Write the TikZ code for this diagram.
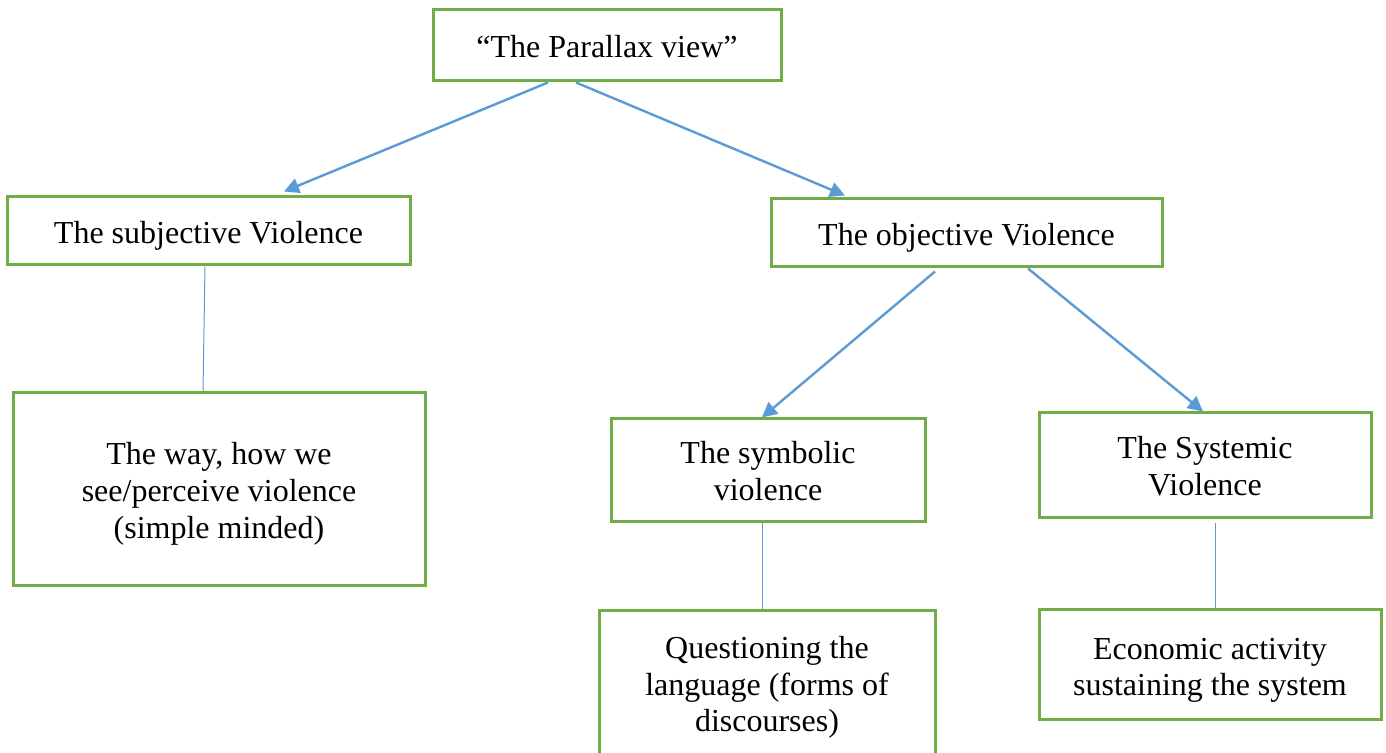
\documentclass[tikz,border=0pt]{standalone}
\usepackage{fontspec}
\setmainfont{Liberation Serif}
\usetikzlibrary{arrows.meta,calc}
\definecolor{boxgreen}{HTML}{70AD47}
\definecolor{lineblue}{HTML}{5B9BD5}
\newcommand\liftto[1]{\rule{0pt}{#1}}
\begin{document}
\begin{tikzpicture}[x=0.5pt,y=-0.5pt,
  box/.style={draw=boxgreen,line width=1.5pt,rectangle,align=center,
    font=\fontsize{16}{18.4}\selectfont,inner sep=0pt},
  arr/.style={draw=lineblue,line width=1.2pt,-{Triangle[length=7.5pt,width=7.5pt]}},
  thin/.style={draw=lineblue,line width=0.5pt}]
\useasboundingbox (0,0) rectangle (1386,753);
\node[box,minimum width=174pt,minimum height=35.5pt] (top) at (607,45.5) {\liftto{12pt}“The Parallax view”};
\node[box,minimum width=201.5pt,minimum height=34pt] (sub) at (208.5,231) {\liftto{16pt}The subjective Violence};
\node[box,minimum width=195.5pt,minimum height=34pt] (obj) at (966.5,233) {\liftto{16pt}The objective Violence};
\node[box,minimum width=206pt,minimum height=96pt] (way) at (219,489) {\liftto{16pt}The way, how we\\see/perceive violence\\(simple minded)};
\node[box,minimum width=157pt,minimum height=51pt] (sym) at (768,470) {\liftto{12pt}The symbolic\\violence};
\node[box,minimum width=166pt,minimum height=52pt] (sys) at (1205,465) {\liftto{12.5pt}The Systemic\\Violence};
\node[box,minimum width=168pt,minimum height=73pt] (que) at (767,683) {\liftto{15.5pt}Questioning the\\language (forms of\\discourses)};
\node[box,minimum width=171pt,minimum height=55pt] (eco) at (1210,664) {\liftto{17pt}Economic activity\\sustaining the system};
\draw[arr] ($(top.south)+(-59,0)$) -- ($(sub.north)+(75.5,-4)$);
\draw[arr] ($(top.south)+(-31,0)$) -- ($(obj.north)+(-121.5,-2)$);
\draw[arr] ($(obj.south)+(-31.5,3)$) -- ($(sym.north)+(-6,0)$);
\draw[arr] ($(obj.south)+(61.5,0)$) -- ($(sys.north)+(-2,0)$);
\draw[thin] ($(sub.south)+(-3.5,0)$) -- ($(way.north)+(-16,0)$);
\draw[thin] ($(sym.south)+(-6,0)$) -- ($(que.north)+(-5,0)$);
\draw[thin] ($(sys.south)+(10,4)$) -- ($(eco.north)+(5,0)$);
\end{tikzpicture}
\end{document}
